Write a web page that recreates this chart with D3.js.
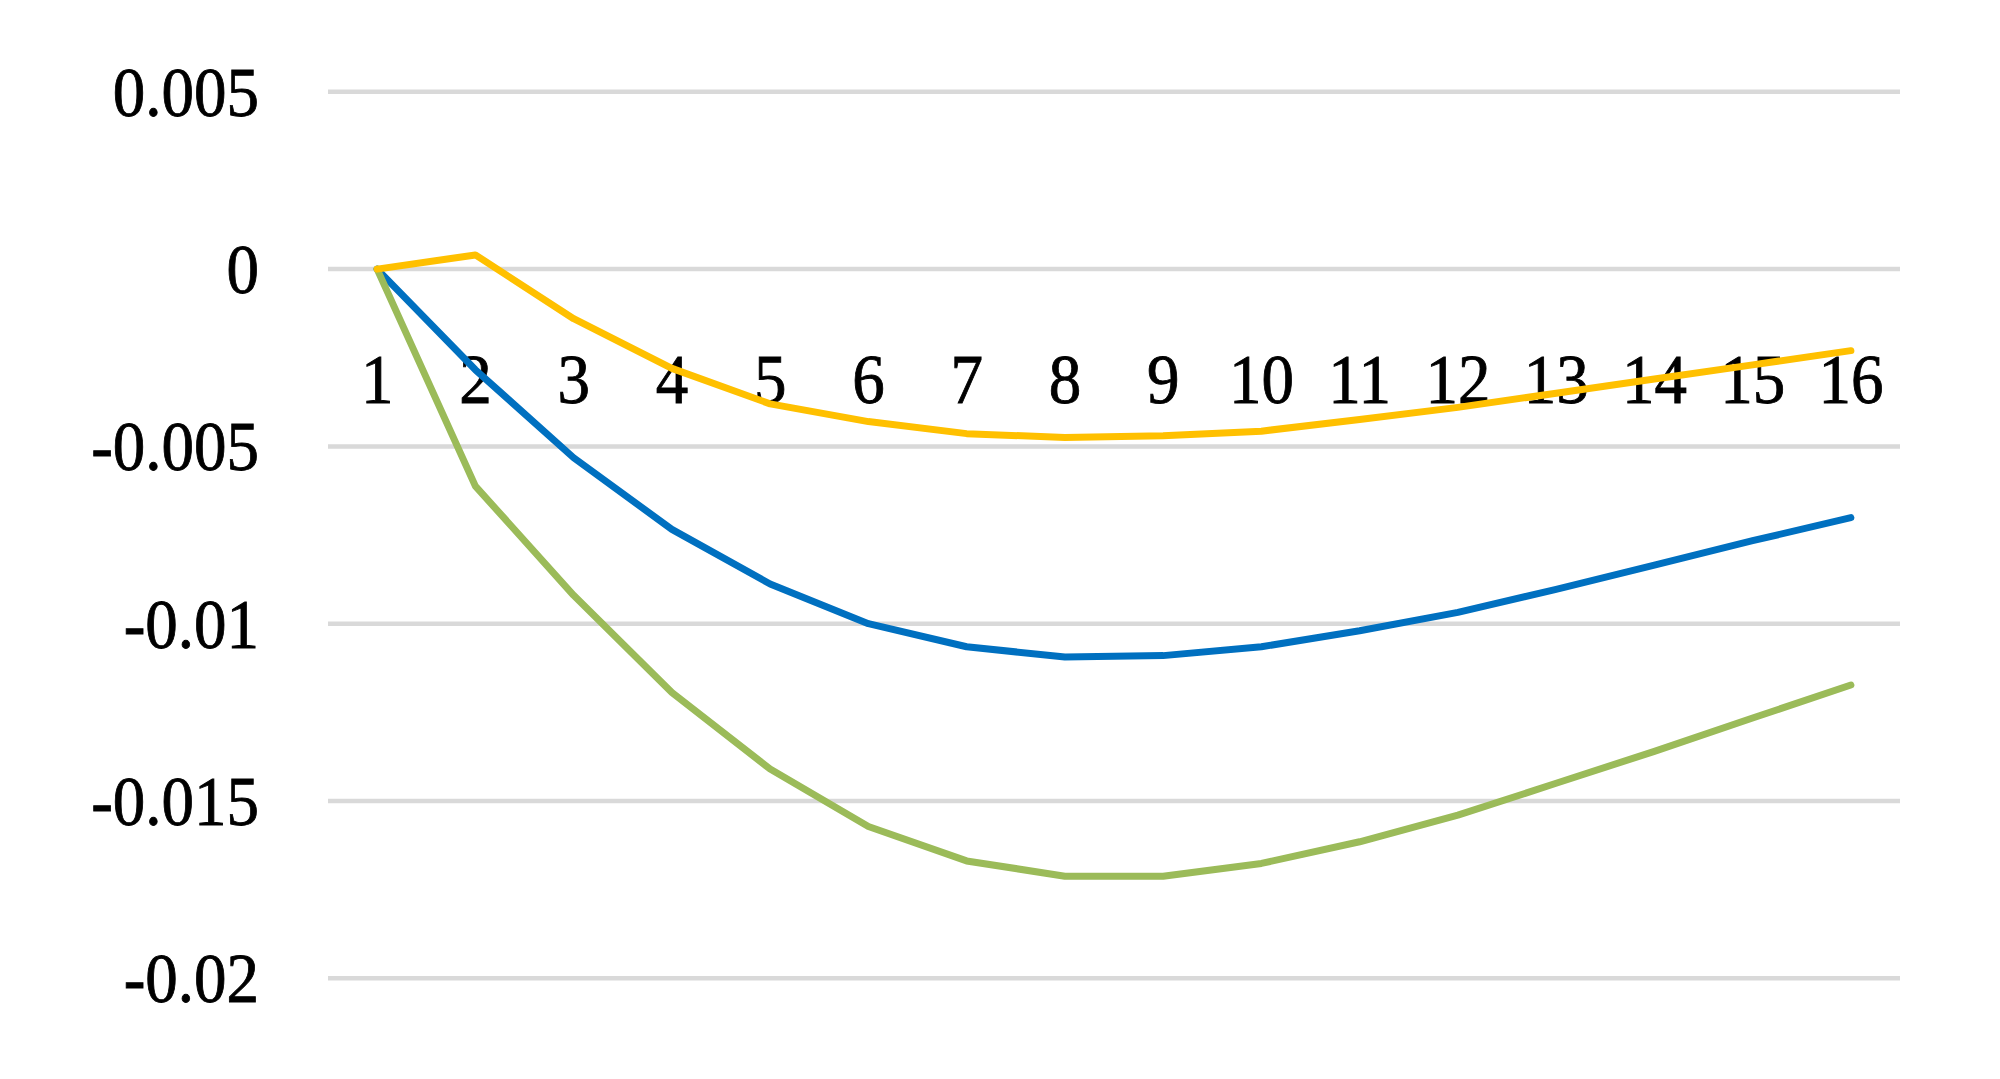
<!DOCTYPE html>
<html>
<head>
<meta charset="utf-8">
<script src="https://cdn.jsdelivr.net/npm/d3@7"></script>
<style>
  html, body { margin: 0; padding: 0; background: #fff; }
  svg text { font-family: "Liberation Serif", "Times New Roman", serif; fill: #000; stroke: #000; stroke-width: 0.8px; }
</style>
</head>
<body>
<svg width="2000" height="1079"></svg>
<script>
// periods and tick values
var periods = d3.range(1, 17)
var yTicks = [0.005, 0, -0.005, -0.01, -0.015, -0.02]
var yTickLabels = ['0.005', '0', '-0.005', '-0.01', '-0.015', '-0.02']

// series
var blue = [0, -0.00284, -0.00532, -0.00734, -0.00888, -0.0100, -0.01065, -0.01094, -0.0109, -0.01065, -0.0102, -0.00968, -0.00903, -0.00835, -0.00766, -0.00701]
var green = [0, -0.00612, -0.0092, -0.01194, -0.0141, -0.01572, -0.01669, -0.01712, -0.01712, -0.01676, -0.01615, -0.0154, -0.0145, -0.0136, -0.01266, -0.01173]
var yellow = [0, 0.0004, -0.0014, -0.0028, -0.0038, -0.0043, -0.00464, -0.00475, -0.0047, -0.00457, -0.00424, -0.0039, -0.0035, -0.0031, -0.0027, -0.0023]

var series = [
  {vals: blue, color: '#0070C0'},
  {vals: green, color: '#9BBB59'},
  {vals: yellow, color: '#FFC000'}
]

var svg = d3.select('svg')

var x = d3.scaleBand().domain(periods).range([328, 1900])
var y = d3.scaleLinear().domain([-0.02, 0.005]).range([978.3, 91.8])
var cx = d => x(d) + x.bandwidth() / 2

// gridlines
svg.append('g')
  .selectAll('line')
  .data(yTicks)
  .join('line')
  .attr('x1', 328).attr('x2', 1900)
  .attr('y1', d => y(d)).attr('y2', d => y(d))
  .style('stroke', '#D9D9D9')
  .style('stroke-width', 4.5)

// y labels (glyphs a bit taller than wide in the original)
svg.append('g')
  .selectAll('text')
  .data(yTicks)
  .join('text')
  .attr('transform', d => 'translate(259,' + (y(d) + 24) + ') scale(1,1.08)')
  .attr('text-anchor', 'end')
  .style('font-size', '65px')
  .text((d, i) => yTickLabels[i])

// category labels sit below the zero line
svg.append('g')
  .selectAll('text')
  .data(periods)
  .join('text')
  .attr('transform', d => 'translate(' + cx(d) + ',403) scale(1,1.08)')
  .attr('text-anchor', 'middle')
  .style('font-size', '65px')
  .text(d => d)

var line = d3.line()
  .x((d, i) => cx(periods[i]))
  .y(d => y(d))

series.forEach(function(s) {
  svg.append('path')
    .attr('d', line(s.vals))
    .style('fill', 'none')
    .style('stroke', s.color)
    .style('stroke-width', 7)
    .style('stroke-linejoin', 'round')
    .style('stroke-linecap', 'round')
})
</script>
</body>
</html>
